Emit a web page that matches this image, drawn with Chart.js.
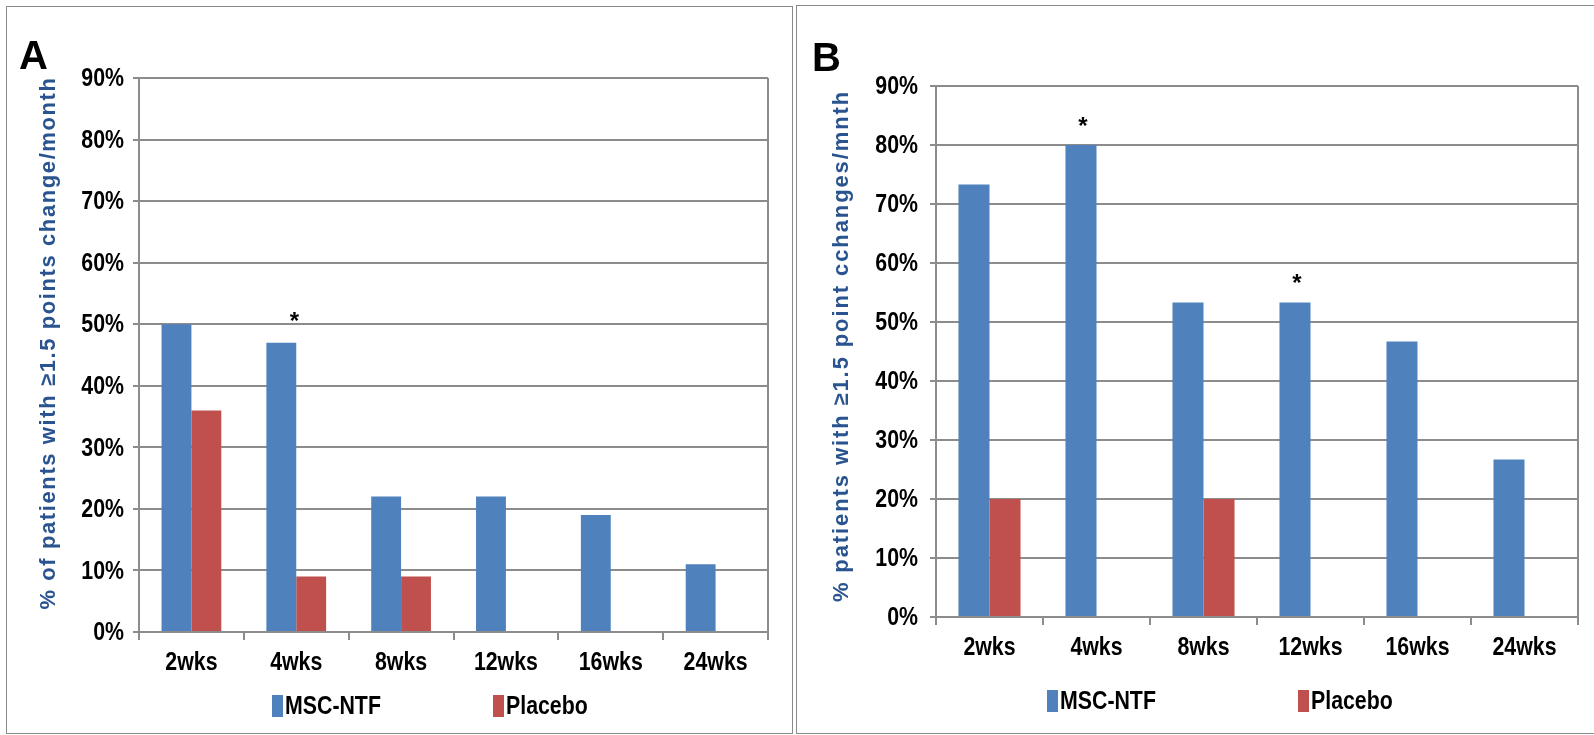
<!DOCTYPE html>
<html>
<head>
<meta charset="utf-8">
<script src="https://cdn.jsdelivr.net/npm/chart.js@4.4.0/dist/chart.umd.min.js"></script>
<style>
  body { margin: 0; background: #fff; width: 1594px; height: 735px; overflow: hidden; position: relative; }
  .panel { position: absolute; border: 1px solid #8a8a8a; box-sizing: border-box; }
  #boxA { left: 6px; top: 6px; width: 787px; height: 728px; }
  #boxB { left: 796px; top: 5px; width: 798px; height: 729px; border-right: none; }
  canvas { position: absolute; top: 0; }
  #chartA { left: 0; }
  #chartB { left: 795px; }
</style>
</head>
<body>
<div class="panel" id="boxA"></div>
<div class="panel" id="boxB"></div>
<canvas id="chartA" width="795" height="735"></canvas>
<canvas id="chartB" width="799" height="735"></canvas>
<script>
// datos
const semanas = ['2wks', '4wks', '8wks', '12wks', '16wks', '24wks'];
const mscA = [50, 47, 22, 22, 19, 11];
const placeboA = [36, 9, 9, 0, 0, 0];
const estrellasA = [false, true, false, false, false, false];
const mscB = [73.3, 80, 53.3, 53.3, 46.7, 26.7];
const placeboB = [20, 0, 20, 0, 0, 0];
const estrellasB = [false, true, false, true, false, false];
const series = ['MSC-NTF', 'Placebo'];

const AZUL = '#4F81BD';
const ROJO = '#C0504D';
const GRIS = '#8c8c8c';
const AZUL_TITULO = '#2a5490';
const SANS = "'Liberation Sans', Arial, sans-serif";
const ANGOSTO = 0.82; // no hay Arial Narrow, se comprime la Liberation Sans a lo ancho

// escribe texto comprimido horizontalmente (imita Arial Narrow Bold)
function textoAngosto(ctx, txt, x, y, align) {
    ctx.save();
    ctx.translate(x, y);
    ctx.scale(ANGOSTO, 1);
    ctx.textAlign = align;
    ctx.fillText(txt, 0, 0);
    ctx.restore();
}

// plugin para etiquetas, letra del panel, titulo del eje, asteriscos y leyenda
const decoracion = {
    id: 'decoracion',
    afterDraw(chart, args, o) {
        const ctx = chart.ctx;
        const a = chart.chartArea;
        const sx = chart.scales.x;
        const sy = chart.scales.y;
        ctx.save();

        // marco derecho del area de la grafica
        ctx.strokeStyle = GRIS;
        ctx.lineWidth = 2;
        ctx.beginPath();
        ctx.moveTo(a.right, a.top);
        ctx.lineTo(a.right, a.bottom);
        ctx.stroke();

        // etiquetas de los ejes
        ctx.fillStyle = '#000';
        ctx.font = 'bold 26px ' + SANS;
        ctx.textBaseline = 'middle';
        sx.ticks.forEach((t, i) => {
            textoAngosto(ctx, sx.getLabelForValue(t.value), sx.getPixelForTick(i), a.bottom + o.xEtiquetaDy, 'center');
        });
        sy.ticks.forEach((t, i) => {
            textoAngosto(ctx, t.value + '%', o.yEtiquetaX, sy.getPixelForTick(i) + 1, 'right');
        });

        // letra A / B
        ctx.font = 'bold 40px ' + SANS;
        ctx.textAlign = 'left';
        ctx.textBaseline = 'alphabetic';
        ctx.fillText(o.letra, o.letraX, o.letraY);

        // asteriscos sobre las barras azules
        const meta = chart.getDatasetMeta(0);
        ctx.font = 'bold 24px ' + SANS;
        ctx.textAlign = 'center';
        ctx.textBaseline = 'middle';
        o.estrellas.forEach((e, i) => {
            if (!e) return;
            const barra = meta.data[i];
            ctx.fillText('*', barra.x + o.estrellaDx, barra.y - o.estrellaDy);
        });

        // leyenda
        ctx.font = 'bold 26px ' + SANS;
        chart.data.datasets.forEach((ds, i) => {
            const x = o.leyendaX[i];
            ctx.fillStyle = ds.backgroundColor;
            ctx.fillRect(x, o.leyendaY - 11, 11, 22);
            ctx.fillStyle = '#000';
            textoAngosto(ctx, ds.label, x + 13, o.leyendaY + 1, 'left');
        });

        // titulo del eje Y (rotado)
        ctx.translate(o.tituloX, o.tituloY);
        ctx.rotate(-Math.PI / 2);
        ctx.font = 'bold 22px ' + SANS;
        ctx.letterSpacing = o.tituloEspacio;
        ctx.fillStyle = AZUL_TITULO;
        ctx.textAlign = 'center';
        ctx.fillText(o.titulo, 0, 0);

        ctx.restore();
    }
};

function crearGrafica(id, msc, placebo, cfg) {
    const ctx = document.getElementById(id).getContext('2d');
    return new Chart(ctx, {
        type: 'bar',
        data: {
            labels: semanas,
            datasets: [
                { label: series[0], data: msc, backgroundColor: AZUL, borderWidth: 0 },
                { label: series[1], data: placebo, backgroundColor: ROJO, borderWidth: 0 }
            ]
        },
        options: {
            responsive: false,
            animation: false,
            devicePixelRatio: 1,
            categoryPercentage: cfg.catPct,
            barPercentage: 1,
            layout: { padding: { left: 0, top: cfg.top, right: cfg.derecha, bottom: 0 } },
            plugins: {
                legend: { display: false },
                tooltip: { enabled: false },
                decoracion: cfg.deco
            },
            scales: {
                x: {
                    grid: { drawOnChartArea: false, color: GRIS, lineWidth: 2, tickLength: 8, offset: true },
                    border: { color: GRIS, width: 2 },
                    ticks: { display: false },
                    afterFit: s => { s.height = cfg.altoX; }
                },
                y: {
                    min: 0,
                    max: 90,
                    ticks: { stepSize: 10, display: false },
                    grid: { color: GRIS, lineWidth: 2, tickLength: 6 },
                    border: { color: GRIS, width: 2 },
                    afterFit: s => { s.width = cfg.anchoY; }
                }
            }
        },
        plugins: [decoracion]
    });
}

crearGrafica('chartA', mscA, placeboA, {
    catPct: 0.57, top: 78, derecha: 27, altoX: 103, anchoY: 139,
    deco: {
        xEtiquetaDy: 31, yEtiquetaX: 124,
        letra: 'A', letraX: 19, letraY: 69,
        titulo: '% of patients with \u22651.5 points change/month', tituloX: 49, tituloY: 343, tituloEspacio: '1.6px',
        estrellas: estrellasA, estrellaDx: 13, estrellaDy: 20,
        leyendaX: [272, 493], leyendaY: 706
    }
});

crearGrafica('chartB', mscB, placeboB, {
    catPct: 0.58, top: 86, derecha: 16, altoX: 118, anchoY: 141,
    deco: {
        xEtiquetaDy: 31, yEtiquetaX: 123,
        letra: 'B', letraX: 17, letraY: 71,
        titulo: '% patients with \u22651.5 point cchanges/mnth', tituloX: 47, tituloY: 346, tituloEspacio: '1.9px',
        estrellas: estrellasB, estrellaDx: 2, estrellaDy: 18,
        leyendaX: [252, 503], leyendaY: 701
    }
});
</script>
</body>
</html>
